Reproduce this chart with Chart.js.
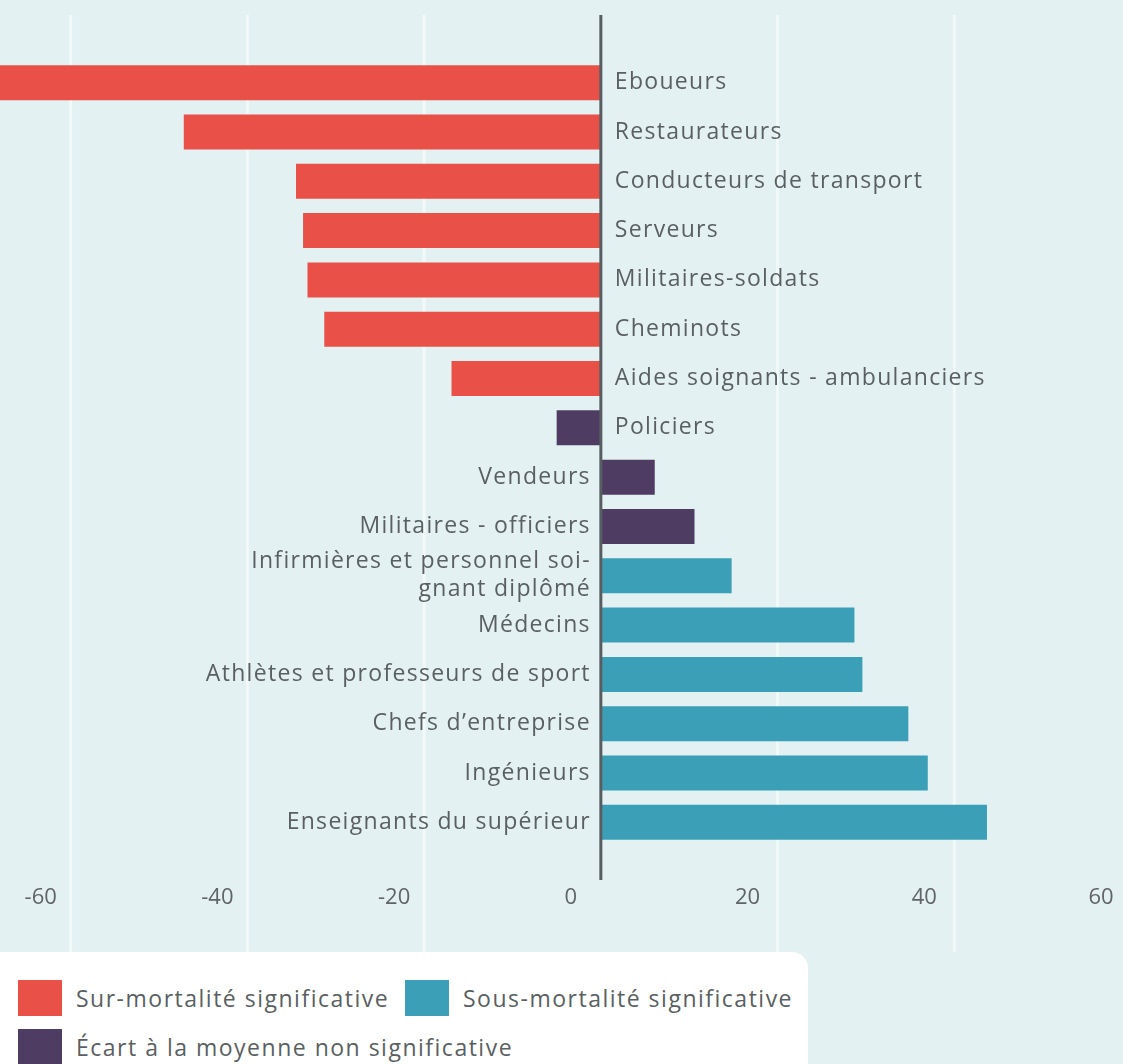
<!DOCTYPE html>
<html lang="fr">
<head>
<meta charset="utf-8">
<title>Écart de mortalité par métier</title>
<script src="https://cdn.jsdelivr.net/npm/chart.js@4.4.1/dist/chart.umd.min.js"></script>
<style>
  html, body {
    margin: 0;
    padding: 0;
    width: 1123px;
    height: 1064px;
    overflow: hidden;
    background: #e3f1f2;
    font-family: "Open Sans", sans-serif;
  }
  #wrap {
    position: absolute;
    left: 0;
    top: 0;
    width: 1145px;
    height: 952px;
  }
  .legende {
    position: absolute;
    left: 0;
    top: 952px;
    width: 808px;
    height: 130px;
    background: #ffffff;
    border-top-right-radius: 16px;
  }
  .item {
    position: absolute;
    display: flex;
    align-items: center;
    font-size: 23px;
    letter-spacing: 1.5px;
    color: #5a5f62;
    white-space: nowrap;
  }
  .item span.carre {
    display: inline-block;
    width: 44px;
    height: 36px;
    margin-right: 14px;
  }
</style>
</head>
<body>
<div id="wrap">
  <canvas id="mortaliteChart" width="1145" height="952"></canvas>
</div>
<div class="legende">
  <div class="item" style="left:18px; top:28px;"><span class="carre" style="background:#e85048"></span>Sur-mortalité significative</div>
  <div class="item" style="left:405px; top:28px;"><span class="carre" style="background:#3a9fb7"></span>Sous-mortalité significative</div>
  <div class="item" style="left:18px; top:77px;"><span class="carre" style="background:#4f3c62"></span>Écart à la moyenne non significative</div>
</div>

<script>
// Métiers (du haut vers le bas)
const metiers = [
  "Eboueurs",
  "Restaurateurs",
  "Conducteurs de transport",
  "Serveurs",
  "Militaires-soldats",
  "Cheminots",
  "Aides soignants - ambulanciers",
  "Policiers",
  "Vendeurs",
  "Militaires - officiers",
  ["Infirmières et personnel soi-", "gnant diplômé"],
  "Médecins",
  "Athlètes et professeurs de sport",
  "Chefs d’entreprise",
  "Ingénieurs",
  "Enseignants du supérieur",
];

// Écart à la moyenne
const ecarts = [-72, -47.2, -34.5, -33.7, -33.2, -31.3, -16.9, -5.0, 6.1, 10.6, 14.8, 28.7, 29.6, 34.8, 37.0, 43.7];

// "sur", "sous" ou "ns" (non significatif)
const significativite = ["sur", "sur", "sur", "sur", "sur", "sur", "sur", "ns", "ns", "ns", "sous", "sous", "sous", "sous", "sous", "sous"];

const xTicks = [-60, -40, -20, 0, 20, 40, 60];

const couleurs = { sur: "#e85048", sous: "#3a9fb7", ns: "#4f3c62" };

// lignes verticales blanches sur toute la hauteur du panneau
const grillePlugin = {
  id: "grille",
  beforeDatasetsDraw(chart) {
    const { ctx, chartArea, scales } = chart;
    ctx.save();
    ctx.strokeStyle = "rgba(255,255,255,0.55)";
    ctx.lineWidth = 3;
    xTicks.forEach((v) => {
      if (v === 0) return;
      const x = scales.x.getPixelForValue(v);
      ctx.beginPath();
      ctx.moveTo(x, chartArea.top - 43);
      ctx.lineTo(x, chartArea.bottom + 110);
      ctx.stroke();
    });
    ctx.restore();
  },
};

// noms des métiers écrits de l'autre côté de l'axe zéro
const etiquettesPlugin = {
  id: "etiquettes",
  afterDatasetsDraw(chart) {
    const { ctx, scales } = chart;
    const x0 = scales.x.getPixelForValue(0);
    ctx.save();
    ctx.font = '23px "Open Sans"';
    ctx.letterSpacing = "1.3px";
    ctx.fillStyle = "#5a5f62";
    ctx.textBaseline = "middle";
    metiers.forEach((label, i) => {
      const y = scales.y.getPixelForValue(i);
      const lignes = Array.isArray(label) ? label : [label];
      const negatif = ecarts[i] < 0;
      ctx.textAlign = negatif ? "left" : "right";
      const x = negatif ? x0 + 14 : x0 - 10;
      lignes.forEach((l, k) => {
        ctx.fillText(l, x, y + (k - (lignes.length - 1) / 2) * 28);
      });
    });
    ctx.restore();
  },
};

// trait vertical du zéro, un peu plus long que la zone des barres
const axeZeroPlugin = {
  id: "axeZero",
  afterDatasetsDraw(chart) {
    const { ctx, chartArea, scales } = chart;
    const x0 = scales.x.getPixelForValue(0);
    ctx.save();
    ctx.strokeStyle = "#575d61";
    ctx.lineWidth = 3;
    ctx.beginPath();
    ctx.moveTo(x0, chartArea.top - 43);
    ctx.lineTo(x0, chartArea.bottom + 33);
    ctx.stroke();
    ctx.restore();
  },
};

const ctx = document.getElementById("mortaliteChart").getContext("2d");
new Chart(ctx, {
  type: "bar",
  data: {
    labels: metiers,
    datasets: [
      {
        data: ecarts,
        backgroundColor: significativite.map((s) => couleurs[s]),
        borderWidth: 0,
        barPercentage: 0.71,
        categoryPercentage: 1,
      },
    ],
  },
  options: {
    indexAxis: "y",
    responsive: false,
    animation: false,
    layout: {
      padding: { top: 58, right: 14, bottom: 44, left: 0 },
    },
    plugins: {
      legend: { display: false },
      tooltip: { enabled: false },
    },
    scales: {
      x: {
        min: -68,
        max: 60,
        afterBuildTicks: (axis) => {
          axis.ticks = xTicks.map((v) => ({ value: v }));
        },
        afterFit: (axis) => {
          axis.height = 61;
        },
        grid: {
          color: "transparent",
          tickColor: "transparent",
          drawTicks: true,
          tickLength: 38,
        },
        border: { display: false },
        ticks: {
          padding: 0,
          labelOffset: -30,
          color: "#606467",
          font: { family: "Open Sans", size: 22 },
        },
      },
      y: {
        display: false,
      },
    },
  },
  plugins: [grillePlugin, etiquettesPlugin, axeZeroPlugin],
});
</script>
</body>
</html>
